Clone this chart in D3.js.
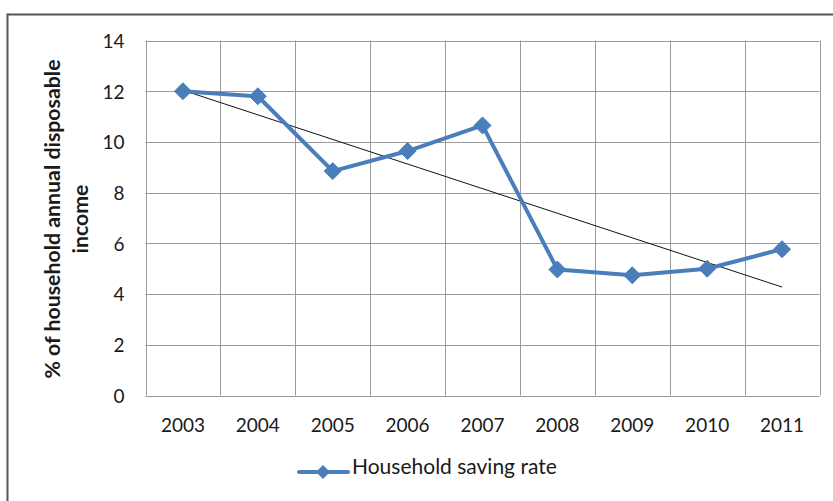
<!DOCTYPE html>
<html>
<head>
<meta charset="utf-8">
<script src="https://cdn.jsdelivr.net/npm/d3@7/dist/d3.min.js"></script>
<style>
  html, body { margin: 0; padding: 0; background: #fff; }
  svg { display: block; }
  text { font-family: Lato, "Open Sans", "Liberation Sans", sans-serif; fill: #1a1a1a; }
</style>
</head>
<body>
<svg id="chart" width="833" height="501"></svg>
<script>
// Household saving rate, % of annual disposable income
const years = ["2003", "2004", "2005", "2006", "2007", "2008", "2009", "2010", "2011"];
const savingRate = [12.0, 11.8, 8.85, 9.64, 10.65, 4.97, 4.74, 5.0, 5.77];
const yTicks = [0, 2, 4, 6, 8, 10, 12, 14];
const seriesName = "Household saving rate";
const yTitleLines = ["% of household annual disposable", "income"];

const svg = d3.select("#chart");
const W = 833, H = 501;
const plot = { left: 145.5, right: 819.5, top: 40.5, bottom: 395.5 };
const blue = "#4a7ebb";

// Outer chart frame (continues past the right and bottom edges)
svg.append("path")
  .attr("d", `M7.5,${H + 5} L7.5,14.5 L${W + 5},14.5`)
  .attr("fill", "none")
  .attr("stroke", "#555")
  .attr("stroke-width", 2);

const x = d3.scaleBand().domain(years).range([plot.left, plot.right]).padding(0);
const y = d3.scaleLinear().domain([0, 14]).range([plot.bottom, plot.top]);

// Horizontal gridlines
svg.append("g")
  .selectAll("line")
  .data(yTicks)
  .join("line")
  .attr("x1", plot.left).attr("x2", plot.right)
  .attr("y1", d => Math.round(y(d)) + 0.5).attr("y2", d => Math.round(y(d)) + 0.5)
  .attr("stroke", "#9a9a9a").attr("stroke-width", 1);

// Vertical gridlines at category boundaries
const bounds = years.map(d => x(d)).concat([x(years[years.length - 1]) + x.bandwidth()]);
svg.append("g")
  .selectAll("line")
  .data(bounds)
  .join("line")
  .attr("x1", d => Math.round(d) + 0.5).attr("x2", d => Math.round(d) + 0.5)
  .attr("y1", plot.top).attr("y2", plot.bottom)
  .attr("stroke", "#9a9a9a").attr("stroke-width", 1);

// Y axis labels
const yAxis = d3.axisLeft(y).tickValues(yTicks).tickSize(0).tickPadding(0);
const yg = svg.append("g").attr("transform", `translate(${plot.left - 21},0)`).call(yAxis);
yg.select(".domain").remove();
yg.selectAll("text")
  .attr("font-size", 19)
  .attr("font-family", "Lato, 'Open Sans', sans-serif")
  .attr("fill", "#1a1a1a")
  .attr("dy", "0.36em");

// X axis labels
const xAxis = d3.axisBottom(x).tickSize(0).tickPadding(0);
const xg = svg.append("g").attr("transform", `translate(0,${plot.bottom})`).call(xAxis);
xg.select(".domain").remove();
xg.selectAll("text")
  .attr("font-size", 19)
  .attr("font-family", "Lato, 'Open Sans', sans-serif")
  .attr("fill", "#1a1a1a")
  .attr("y", 36.5)
  .attr("dy", 0);

// Y axis title (two lines, rotated)
const titleG = svg.append("g").attr("transform", "translate(0,219) rotate(-90)");
titleG.selectAll("text")
  .data(yTitleLines)
  .join("text")
  .attr("x", 0)
  .attr("y", (d, i) => 60 + i * 28)
  .attr("text-anchor", "middle")
  .attr("font-size", 21.3)
  .attr("font-weight", "bold")
  .text(d => d);

// Linear trendline (least squares over category index)
const n = savingRate.length;
const idx = d3.range(n);
const mx = d3.mean(idx), my = d3.mean(savingRate);
const slope = d3.sum(idx, i => (i - mx) * (savingRate[i] - my)) / d3.sum(idx, i => (i - mx) ** 2);
const intercept = my - slope * mx;
const cx = i => x(years[i]) + x.bandwidth() / 2;
svg.append("line")
  .attr("x1", cx(0)).attr("y1", y(intercept))
  .attr("x2", cx(n - 1)).attr("y2", y(intercept + slope * (n - 1)))
  .attr("stroke", "#111").attr("stroke-width", 1);

// Series line
const line = d3.line().x((d, i) => cx(i)).y(d => y(d));
svg.append("path")
  .datum(savingRate)
  .attr("d", line)
  .attr("fill", "none")
  .attr("stroke", blue)
  .attr("stroke-width", 4)
  .attr("stroke-linejoin", "round");

// Diamond markers
const diamond = s => `M0,${-s} L${s},0 L0,${s} L${-s},0 Z`;
svg.append("g")
  .selectAll("path")
  .data(savingRate)
  .join("path")
  .attr("transform", (d, i) => `translate(${cx(i)},${y(d)})`)
  .attr("d", diamond(8.5))
  .attr("fill", blue)
  .attr("stroke", blue)
  .attr("stroke-width", 1);

// Legend
const lg = svg.append("g").attr("transform", "translate(299,472)");
lg.append("line").attr("x1", 0).attr("x2", 49).attr("y1", 0).attr("y2", 0)
  .attr("stroke", blue).attr("stroke-width", 4).attr("stroke-linecap", "round");
lg.append("path").attr("transform", "translate(24,0)").attr("d", diamond(7)).attr("fill", blue);
lg.append("text").attr("x", 53).attr("y", 2)
  .attr("font-size", 21).text(seriesName);
</script>
</body>
</html>
